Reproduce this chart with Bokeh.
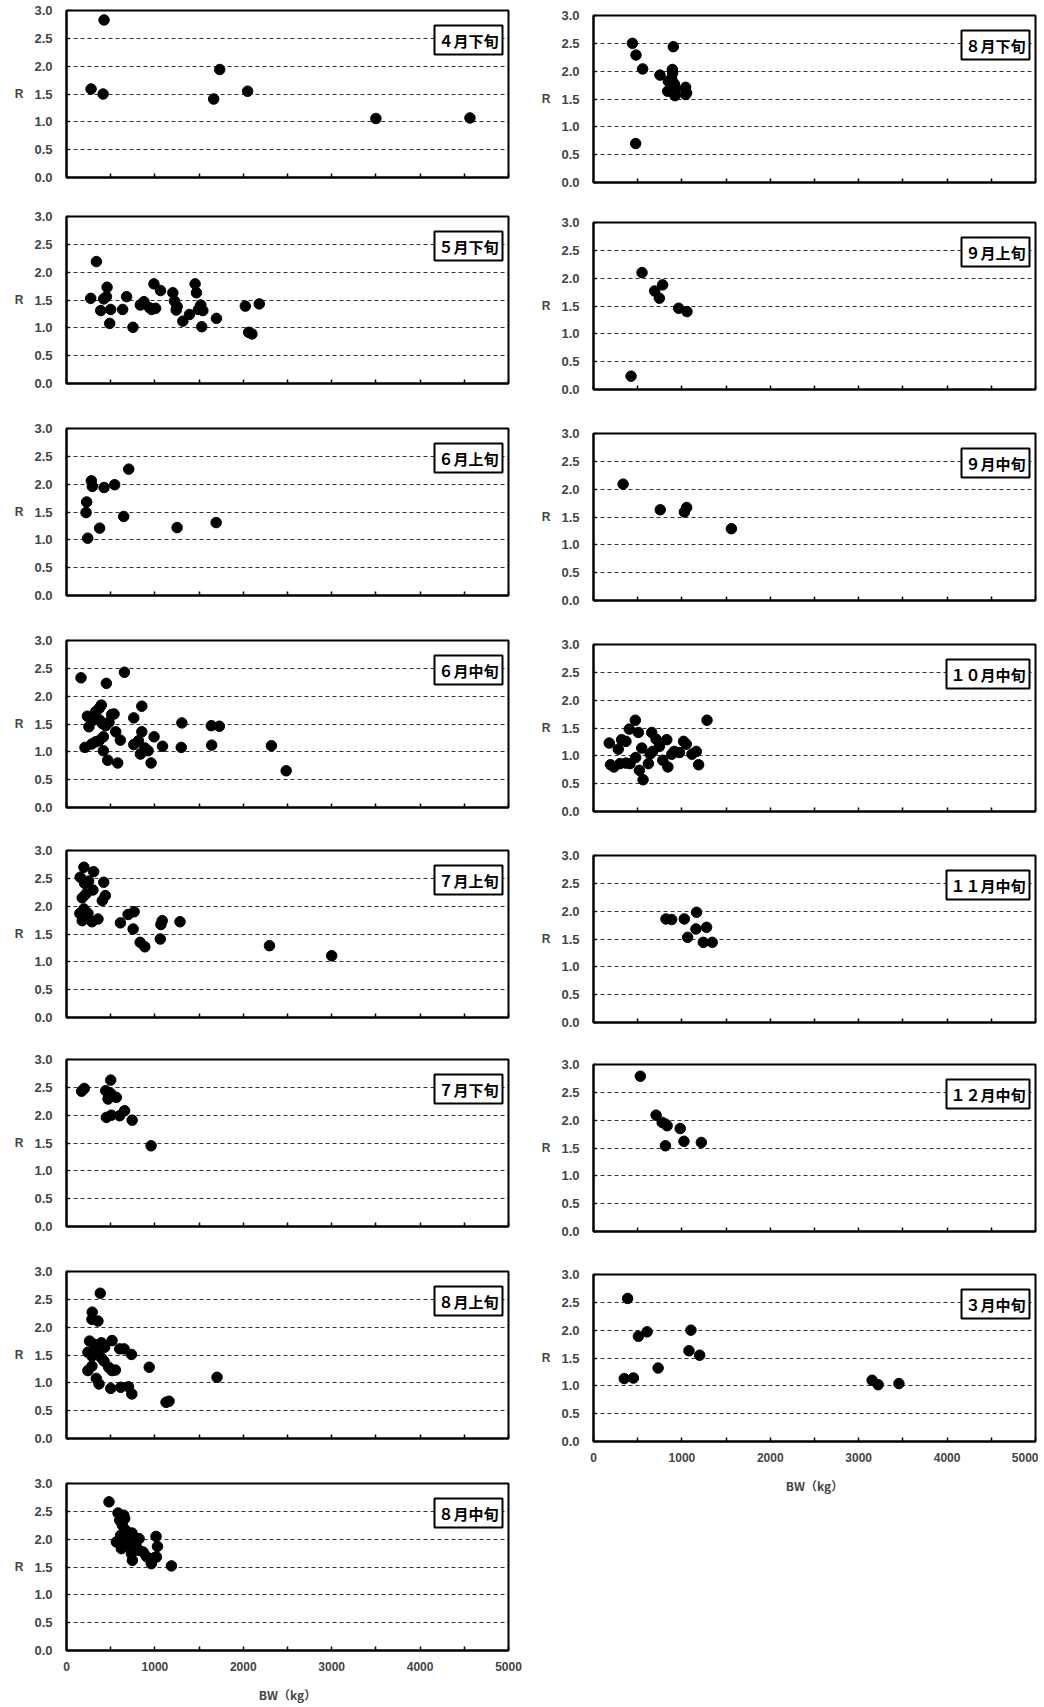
from bokeh.plotting import figure
from bokeh.layouts import row, column
from bokeh.models import FixedTicker, PrintfTickFormatter, Label
from bokeh.embed import file_html
from bokeh.resources import INLINE

# ---------------- data (BW in kg, R) ----------------
apr_late_bw = [278, 425, 414, 1665, 1733, 2049, 3500, 4564]
apr_late_r = [1.59, 2.83, 1.50, 1.41, 1.94, 1.55, 1.06, 1.07]

may_late_bw = [338, 274, 387, 421, 451, 459, 500, 489, 635, 680, 752, 835, 876, 940, 963, 1008, 989, 1064,
               1203, 1222, 1252, 1241, 1316, 1391, 1455, 1470, 1492, 1519, 1542, 1530, 1696, 2023, 2060, 2098, 2181]
may_late_r = [2.19, 1.53, 1.31, 1.52, 1.56, 1.73, 1.33, 1.08, 1.33, 1.56, 1.01, 1.41, 1.47, 1.36, 1.33, 1.35, 1.79, 1.67,
              1.63, 1.48, 1.38, 1.32, 1.12, 1.24, 1.79, 1.63, 1.33, 1.41, 1.31, 1.02, 1.17, 1.39, 0.92, 0.89, 1.43]

jun_early_bw = [281, 292, 228, 221, 240, 375, 425, 545, 704, 647, 1251, 1693]
jun_early_r = [2.06, 1.96, 1.68, 1.49, 1.03, 1.21, 1.94, 1.99, 2.27, 1.42, 1.22, 1.31]

jun_mid_bw = [164, 451, 655, 209, 236, 254, 303, 330, 368, 394, 375, 405, 443, 481, 417, 368, 330, 285, 417, 466,
              511, 538, 557, 609, 579, 761, 852, 852, 761, 814, 836, 886, 923, 991, 957, 1086, 1305, 1298, 1638, 1729,
              1642, 2318, 2485]
jun_mid_r = [2.33, 2.23, 2.43, 1.08, 1.64, 1.45, 1.57, 1.72, 1.78, 1.84, 1.57, 1.51, 1.47, 1.53, 1.27, 1.20, 1.18, 1.14,
             1.02, 0.85, 1.67, 1.68, 1.36, 1.21, 0.80, 1.61, 1.82, 1.36, 1.13, 1.20, 0.96, 1.07, 1.02, 1.27, 0.80, 1.10,
             1.52, 1.08, 1.47, 1.46, 1.12, 1.11, 0.66]

jul_early_bw = [197, 155, 205, 250, 307, 421, 299, 220, 178, 439, 405, 151, 197, 243, 178, 288, 356, 610, 697, 765,
                754, 833, 886, 1061, 1068, 1083, 1284, 2296, 3000]
jul_early_r = [2.70, 2.52, 2.41, 2.45, 2.62, 2.43, 2.29, 2.22, 2.15, 2.19, 2.10, 1.87, 1.95, 1.87, 1.74, 1.72, 1.77,
               1.70, 1.85, 1.90, 1.59, 1.35, 1.27, 1.41, 1.67, 1.74, 1.72, 1.29, 1.11]

jul_late_bw = [171, 201, 444, 500, 470, 500, 564, 451, 507, 601, 657, 743, 957]
jul_late_r = [2.43, 2.48, 2.44, 2.63, 2.29, 2.39, 2.32, 1.96, 2.00, 1.99, 2.08, 1.91, 1.45]

aug_early_bw = [382, 291, 288, 356, 261, 318, 394, 515, 432, 242, 288, 348, 394, 424, 242, 288, 337, 368, 500, 477,
                515, 553, 602, 652, 735, 614, 701, 739, 936, 1126, 1160, 1703]
aug_early_r = [2.61, 2.27, 2.14, 2.11, 1.75, 1.69, 1.72, 1.76, 1.64, 1.55, 1.48, 1.54, 1.45, 1.39, 1.22, 1.30, 1.08,
               0.98, 0.90, 1.28, 1.22, 1.23, 1.61, 1.61, 1.51, 0.92, 0.93, 0.80, 1.28, 0.65, 0.67, 1.10]

aug_mid_bw = [481, 583, 613, 647, 602, 658, 632, 670, 613, 564, 640, 696, 742, 621, 677, 734, 821, 791, 734, 745,
              821, 866, 904, 953, 998, 1017, 960, 1013, 1029, 1187]
aug_mid_r = [2.67, 2.47, 2.40, 2.43, 2.34, 2.37, 2.25, 2.16, 2.07, 1.95, 2.03, 2.04, 2.11, 1.83, 1.89, 1.92, 2.01, 1.86,
             1.74, 1.62, 1.80, 1.77, 1.69, 1.62, 1.67, 1.68, 1.56, 2.05, 1.87, 1.52]

aug_late_bw = [440, 481, 556, 477, 903, 752, 846, 892, 895, 884, 914, 839, 884, 929, 922, 1042, 1053, 1042]
aug_late_r = [2.50, 2.29, 2.04, 0.70, 2.44, 1.93, 1.82, 2.03, 1.97, 1.87, 1.77, 1.64, 1.64, 1.67, 1.56, 1.71, 1.61, 1.58]

sep_early_bw = [549, 692, 782, 745, 963, 1057, 425]
sep_early_r = [2.10, 1.77, 1.88, 1.64, 1.46, 1.40, 0.24]

sep_mid_bw = [335, 755, 1028, 1054, 1560]
sep_mid_r = [2.09, 1.63, 1.59, 1.67, 1.29]

oct_mid_bw = [178, 193, 231, 280, 318, 367, 299, 367, 413, 405, 473, 508, 477, 519, 561, 546, 621, 640, 670, 659,
              708, 746, 829, 784, 841, 886, 913, 973, 1019, 1049, 1114, 1163, 1189, 1284]
oct_mid_r = [1.23, 0.84, 0.80, 1.12, 1.29, 1.26, 0.86, 0.87, 0.86, 1.48, 1.64, 1.42, 0.97, 0.74, 0.57, 1.14, 0.86, 1.03,
             1.08, 1.42, 1.30, 1.17, 1.29, 0.92, 0.80, 1.03, 1.08, 1.06, 1.26, 1.21, 1.03, 1.08, 0.84, 1.64]

nov_mid_bw = [820, 884, 1027, 1166, 1159, 1279, 1065, 1242, 1343]
nov_mid_r = [1.86, 1.85, 1.86, 1.98, 1.68, 1.71, 1.53, 1.44, 1.44]

dec_mid_bw = [530, 708, 777, 814, 833, 814, 981, 1023, 1220]
dec_mid_r = [2.79, 2.09, 1.96, 1.93, 1.90, 1.54, 1.85, 1.62, 1.60]

mar_mid_bw = [386, 348, 451, 508, 606, 731, 1102, 1080, 1201, 3152, 3220, 3455]
mar_mid_r = [2.57, 1.13, 1.14, 1.89, 1.97, 1.32, 2.00, 1.63, 1.55, 1.10, 1.02, 1.04]

left_titles = ["４月下旬", "５月下旬", "６月上旬", "６月中旬", "７月上旬", "７月下旬", "８月上旬", "８月中旬"]
right_titles = ["８月下旬", "９月上旬", "９月中旬", "１０月中旬", "１１月中旬", "１２月中旬", "３月中旬"]

y_ticks = [0.0, 0.5, 1.0, 1.5, 2.0, 2.5, 3.0]
x_major_ticks = [0, 1000, 2000, 3000, 4000, 5000]
x_minor_ticks = [500, 1500, 2500, 3500, 4500]
x_all_ticks = [0, 500, 1000, 1500, 2000, 2500, 3000, 3500, 4000, 4500, 5000]
x_title = "BW（kg）"
y_title = "R"

# ---------------- layout geometry (pixels) ----------------
FRAME_W, FRAME_H = 442, 167
left_frame_tops = [10, 216, 428, 640, 850, 1059, 1271, 1483]
right_frame_tops = [15, 222, 433, 644, 855, 1064, 1274]
TOP_GAP = 6
LAST_BOTTOM = 54

TICK_FONT = "Liberation Sans"
CJK_FONT = "Noto Sans CJK JP"


def make_panel(title, xs, ys, side, top_border, bottom_border, bottom):
    if side == "left":
        bl, br = 66, 16
    else:
        bl, br = 69, 3
    p = figure(frame_width=FRAME_W, frame_height=FRAME_H, x_range=(0, 5000), y_range=(0, 3),
               output_backend="svg", toolbar_location=None,
               min_border_left=bl, min_border_right=br,
               min_border_top=top_border, min_border_bottom=bottom_border,
               background_fill_color="white", border_fill_color="white")
    p.outline_line_color = "black"
    p.outline_line_width = 2

    # y axis
    ya = p.yaxis[0]
    ya.ticker = FixedTicker(ticks=y_ticks)
    ya.formatter = PrintfTickFormatter(format="%.1f")
    ya.axis_label = y_title
    ya.axis_label_orientation = "horizontal"
    ya.axis_label_standoff = 8
    ya.axis_label_text_font = TICK_FONT
    ya.axis_label_text_font_size = "12px"
    ya.axis_label_text_font_style = "bold"
    ya.major_label_text_font = TICK_FONT
    ya.major_label_text_font_size = "13px"
    ya.major_label_text_font_style = "bold"
    ya.major_label_standoff = 14
    ya.major_tick_in = 3
    ya.major_tick_out = 0
    ya.minor_tick_line_color = None
    ya.axis_line_width = 2
    ya.major_tick_line_width = 1.5

    # x axis
    xa = p.xaxis[0]
    xa.axis_line_width = 2
    xa.major_tick_in = 4
    xa.major_tick_out = 0
    xa.major_tick_line_width = 1.5
    xa.minor_tick_in = 4
    xa.minor_tick_out = 0
    xa.minor_tick_line_width = 1.5
    if bottom:
        xa.ticker = FixedTicker(ticks=x_major_ticks, minor_ticks=x_minor_ticks)
        xa.major_label_text_font = TICK_FONT
        xa.major_label_text_font_size = "12px"
        xa.major_label_text_font_style = "bold"
        xa.major_label_standoff = 11
        xa.axis_label = x_title
        xa.axis_label_standoff = 12
        xa.axis_label_text_font = CJK_FONT
        xa.axis_label_text_font_size = "12px"
        xa.axis_label_text_font_style = "bold"
    else:
        xa.ticker = FixedTicker(ticks=x_all_ticks)
        xa.major_label_overrides = {t: "" for t in x_all_ticks}
        xa.minor_tick_line_color = None

    # grid
    p.xgrid.visible = False
    p.ygrid.ticker = FixedTicker(ticks=y_ticks)
    p.ygrid.grid_line_color = "#333333"
    p.ygrid.grid_line_dash = "4 3"
    p.ygrid.grid_line_width = 1

    p.scatter(x=xs, y=ys, size=10.5, color="black")

    lab = Label(x=5000, y=3, x_units="data", y_units="data", x_offset=-6, y_offset=-15,
                text=title, text_align="right", text_baseline="top",
                text_font=CJK_FONT, text_font_size="15px", text_font_style="bold", text_color="black",
                border_line_color="black", border_line_width=2, background_fill_color="white",
                padding=4)
    p.add_layout(lab)
    return p


def build_column(titles, data, tops, side):
    figs = []
    n = len(titles)
    for i in range(n):
        top_border = tops[0] if i == 0 else TOP_GAP
        if i < n - 1:
            bottom_border = tops[i + 1] - tops[i] - FRAME_H - TOP_GAP
        else:
            bottom_border = LAST_BOTTOM
        xs, ys = data[i]
        figs.append(make_panel(titles[i], xs, ys, side, top_border, bottom_border, i == n - 1))
    return column(*figs, spacing=0)


left_data = [(apr_late_bw, apr_late_r), (may_late_bw, may_late_r), (jun_early_bw, jun_early_r),
             (jun_mid_bw, jun_mid_r), (jul_early_bw, jul_early_r), (jul_late_bw, jul_late_r),
             (aug_early_bw, aug_early_r), (aug_mid_bw, aug_mid_r)]
right_data = [(aug_late_bw, aug_late_r), (sep_early_bw, sep_early_r), (sep_mid_bw, sep_mid_r),
              (oct_mid_bw, oct_mid_r), (nov_mid_bw, nov_mid_r), (dec_mid_bw, dec_mid_r),
              (mar_mid_bw, mar_mid_r)]

layout = row(build_column(left_titles, left_data, left_frame_tops, "left"),
             build_column(right_titles, right_data, right_frame_tops, "right"),
             spacing=0)

open("out.html", "w").write(file_html(layout, INLINE))
